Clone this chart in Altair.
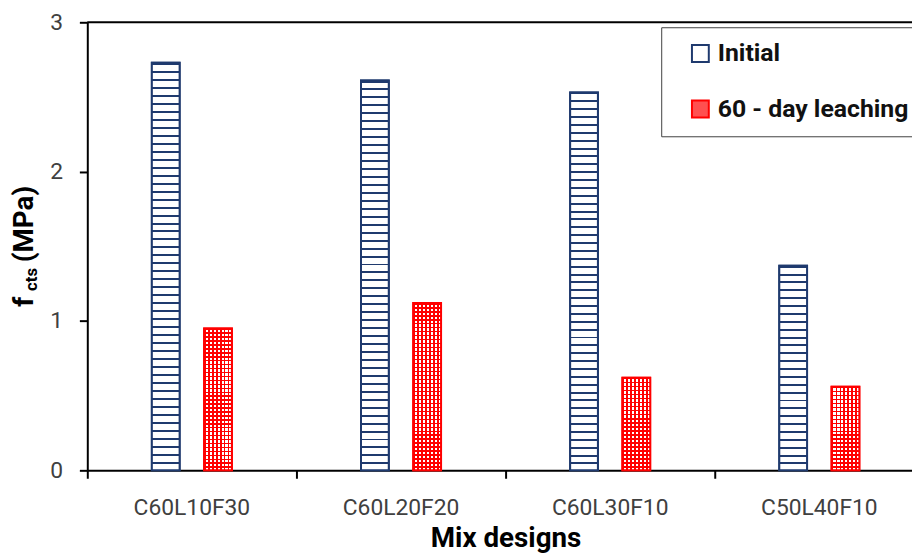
import altair as alt
import pandas as pd

categories = ["C60L10F30", "C60L20F20", "C60L30F10", "C50L40F10"]
series = ["Initial", "60 - day leaching"]
initial = [2.73, 2.61, 2.53, 1.37]
leaching = [0.95, 1.12, 0.62, 0.56]
y_ticks = [0, 1, 2, 3]

rows = []
for c, a, b in zip(categories, initial, leaching):
    rows.append({"mix": c, "series": series[0], "value": a})
    rows.append({"mix": c, "series": series[1], "value": b})
df = pd.DataFrame(rows)

NAVY = "#1f3a6e"
RED = "#ff0000"
TXT = "#404040"
FONT = "Roboto"
PLOT_H = 452
BAR_W = 28
PX_PER_UNIT = PLOT_H / (y_ticks[-1] - y_ticks[0])

x_enc = alt.X(
    "mix:N", sort=categories,
    scale=alt.Scale(range=[0, 844], paddingInner=0, paddingOuter=0, align=0),
    axis=alt.Axis(
        title="Mix designs", bandPosition=0, tickSize=8, tickColor="black",
        tickWidth=2, domainColor="black", domainWidth=2, labelFont=FONT,
        labelFontSize=23, labelColor=TXT, labelPadding=19, titleFont=FONT,
        titleFontSize=28, titleFontWeight="bold", titleColor="black",
        titlePadding=5, labelAngle=0,
    ),
)
xo_enc = alt.XOffset("series:N", sort=series,
                     scale=alt.Scale(paddingInner=0, paddingOuter=1))
y_enc = alt.Y(
    "value:Q", scale=alt.Scale(domain=[y_ticks[0], y_ticks[-1]], nice=False),
    axis=alt.Axis(
        values=y_ticks, format="d", title=None, grid=False, tickSize=8,
        tickColor="black", tickWidth=2, domainColor="black", domainWidth=2,
        labelFont=FONT, labelFontSize=23, labelColor=TXT, labelPadding=17,
    ),
)

base = alt.Chart(df).mark_bar(strokeWidth=2, width=BAR_W).encode(
    x=x_enc, xOffset=xo_enc, y=y_enc,
    fill=alt.Fill("series:N", sort=series,
                  scale=alt.Scale(domain=series, range=["#ffffff", "#ff5050"]),
                  legend=alt.Legend(title=None)),
    stroke=alt.Stroke("series:N", sort=series,
                      scale=alt.Scale(domain=series, range=[NAVY, RED]),
                      legend=alt.Legend(title=None)),
)


def stripes(n, frac, c_on, c_off):
    stops = []
    for k in range(n):
        a = k / n
        b = (k + frac) / n
        e = (k + 1) / n
        stops += [alt.GradientStop(offset=a, color=c_on),
                  alt.GradientStop(offset=b, color=c_on),
                  alt.GradientStop(offset=b, color=c_off),
                  alt.GradientStop(offset=e, color=c_off)]
    return stops


layers = [base]
for c, a, b in zip(categories, initial, leaching):
    n1 = max(1, round(a * PX_PER_UNIT / 8))
    g1 = alt.LinearGradient(gradient="linear", x1=0, x2=0, y1=0, y2=1,
                            stops=stripes(n1, 0.25, NAVY, "#ffffff"))
    layers.append(
        alt.Chart(df).transform_filter(
            (alt.datum.mix == c) & (alt.datum.series == series[0])
        ).mark_bar(fill=g1, strokeWidth=0, width=BAR_W).encode(
            x=x_enc, xOffset=xo_enc, y=y_enc)
    )
    n2 = max(1, round(b * PX_PER_UNIT / 4))
    g2 = alt.LinearGradient(gradient="linear", x1=0, x2=0, y1=0, y2=1,
                            stops=stripes(n2, 0.38, RED, "#ffffff"))
    layers.append(
        alt.Chart(df).transform_filter(
            (alt.datum.mix == c) & (alt.datum.series == series[1])
        ).mark_bar(fill=g2, strokeWidth=0, width=BAR_W).encode(
            x=x_enc, xOffset=xo_enc, y=y_enc)
    )

gv = alt.LinearGradient(gradient="linear", x1=0, x2=1, y1=0, y2=0,
                        stops=stripes(7, 0.38, RED, "rgba(255,255,255,0)"))
layers.append(
    alt.Chart(df).transform_filter(alt.datum.series == series[1])
    .mark_bar(fill=gv, strokeWidth=0, width=BAR_W).encode(
        x=x_enc, xOffset=xo_enc, y=y_enc)
)

outline = alt.Chart(df).mark_bar(strokeWidth=2, fillOpacity=0, width=BAR_W).encode(
    x=x_enc, xOffset=xo_enc, y=y_enc,
    stroke=alt.Stroke("series:N", sort=series,
                      scale=alt.Scale(domain=series, range=[NAVY, RED]),
                      legend=None),
)
layers.append(outline)

top = alt.Chart(pd.DataFrame({"top": [y_ticks[-1]]})).mark_rule(
    color="black", strokeWidth=2).encode(y=alt.Y("top:Q"))
layers.append(top)

layers.append(alt.Chart(pd.DataFrame({"t": ["f"]})).mark_text(
    angle=270, align="left", baseline="alphabetic", font=FONT, fontSize=28,
    fontWeight="bold", color="black").encode(
    text="t:N", x=alt.value(-55), y=alt.value(287)))
layers.append(alt.Chart(pd.DataFrame({"t": ["cts"]})).mark_text(
    angle=270, align="left", baseline="alphabetic", font=FONT, fontSize=17,
    fontWeight="bold", color="black").encode(
    text="t:N", x=alt.value(-51), y=alt.value(271)))
layers.append(alt.Chart(pd.DataFrame({"t": ["(MPa)"]})).mark_text(
    angle=270, align="left", baseline="alphabetic", font=FONT, fontSize=28,
    fontWeight="bold", color="black").encode(
    text="t:N", x=alt.value(-55), y=alt.value(242)))

chart = alt.layer(*layers).resolve_scale(x="shared", y="shared").properties(
    width=832, height=PLOT_H,
    autosize=alt.AutoSizeParams(type="none"),
    padding={"left": 80, "top": 12, "right": 0, "bottom": 83},
).configure_view(stroke=None).configure_legend(
    orient="none", legendX=579, legendY=5, strokeColor="#404040",
    fillColor="#ffffff", padding=14, symbolOffset=13, symbolType="square",
    symbolSize=289, symbolStrokeWidth=2, labelFont=FONT, labelFontSize=25,
    labelFontWeight="bold", labelColor="#111111", rowPadding=30,
    labelOffset=5, labelLimit=400,
)

chart.save("out.html", embed_options={"renderer": "svg", "actions": False})
